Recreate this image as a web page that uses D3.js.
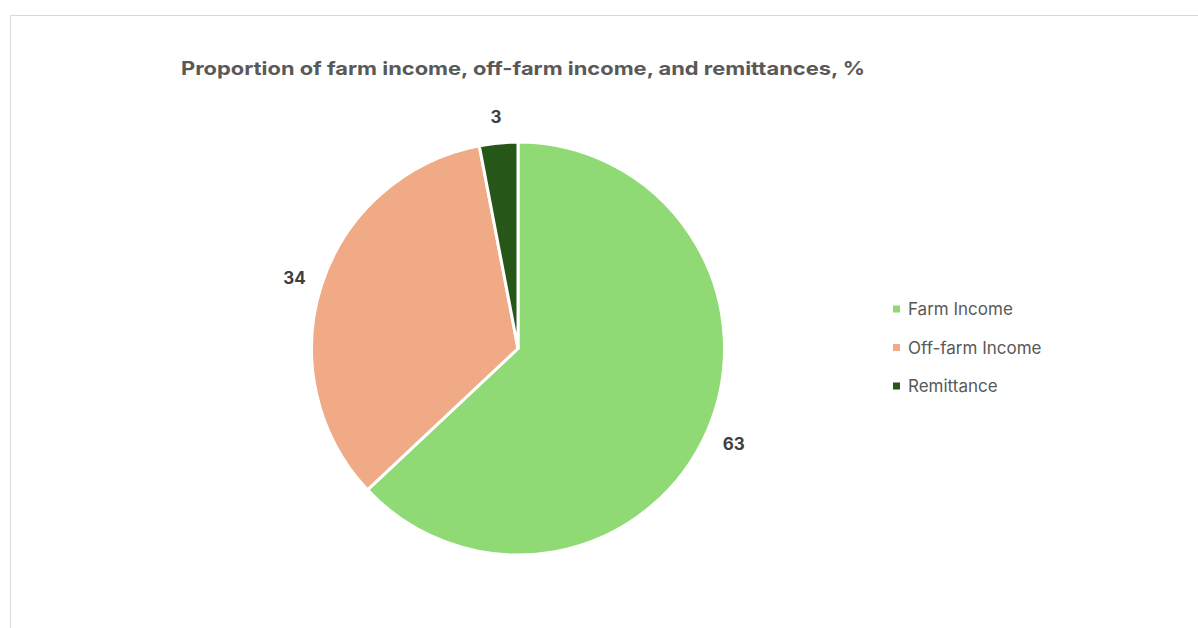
<!DOCTYPE html>
<html><head><meta charset="utf-8">
<script src="https://cdn.jsdelivr.net/npm/d3@7"></script>
<style>html,body{margin:0;padding:0;background:#fff;}svg{display:block;}</style>
</head><body>
<svg id="c" width="1198" height="628"></svg>
<script>
const categories = ["Farm Income", "Off-farm Income", "Remittance"];
const values = [63, 34, 3];
const colors = ["#8fda74", "#f0aa86", "#275619"];
const title = "Proportion of farm income, off-farm income, and remittances, %";

const svg = d3.select("#c");
const font = "Inter, 'Open Sans', sans-serif";

// chart border
svg.append("path").attr("d", "M10.5,628 V15.5 H1198").attr("fill", "none").attr("stroke", "#d9d9d9").attr("stroke-width", 1);

const t = svg.append("text").attr("x", 181).attr("y", 75)
  .attr("font-family", font).attr("font-weight", 700).attr("font-size", 18.5)
  .attr("fill", "#595959").text(title);
t.attr("textLength", 684).attr("lengthAdjust", "spacingAndGlyphs");

const cx = 518, cy = 348.5, r = 206.5;
const pie = d3.pie().sort(null).value(d => d.v);
const arcs = pie(categories.map((c, i) => ({c, v: values[i], col: colors[i]})));
const arc = d3.arc().innerRadius(0).outerRadius(r);
const labelArc = d3.arc().innerRadius(235).outerRadius(235);
const g = svg.append("g").attr("transform", `translate(${cx},${cy})`);
g.selectAll("path").data(arcs).join("path")
  .attr("d", arc).attr("fill", d => d.data.col)
  .attr("stroke", "#fff").attr("stroke-width", 3).attr("stroke-linejoin", "round");
g.selectAll("text").data(arcs).join("text")
  .attr("transform", d => `translate(${labelArc.centroid(d)})`)
  .attr("text-anchor", "middle").attr("dy", "0.5em")
  .attr("font-family", font).attr("font-weight", 700).attr("font-size", 17)
  .attr("fill", "#404040").text(d => d.data.v);

const ly = d3.scalePoint().domain(categories).range([309, 386]);
const lg = svg.append("g");
categories.forEach((c, i) => {
  lg.append("rect").attr("x", 893).attr("y", ly(c) - 3.5).attr("width", 7).attr("height", 7).attr("fill", colors[i]);
  lg.append("text").attr("x", 908).attr("y", ly(c)).attr("dy", "0.36em")
    .attr("font-family", font).attr("font-size", 17).attr("fill", "#595959").text(c);
});
</script>
</body></html>
